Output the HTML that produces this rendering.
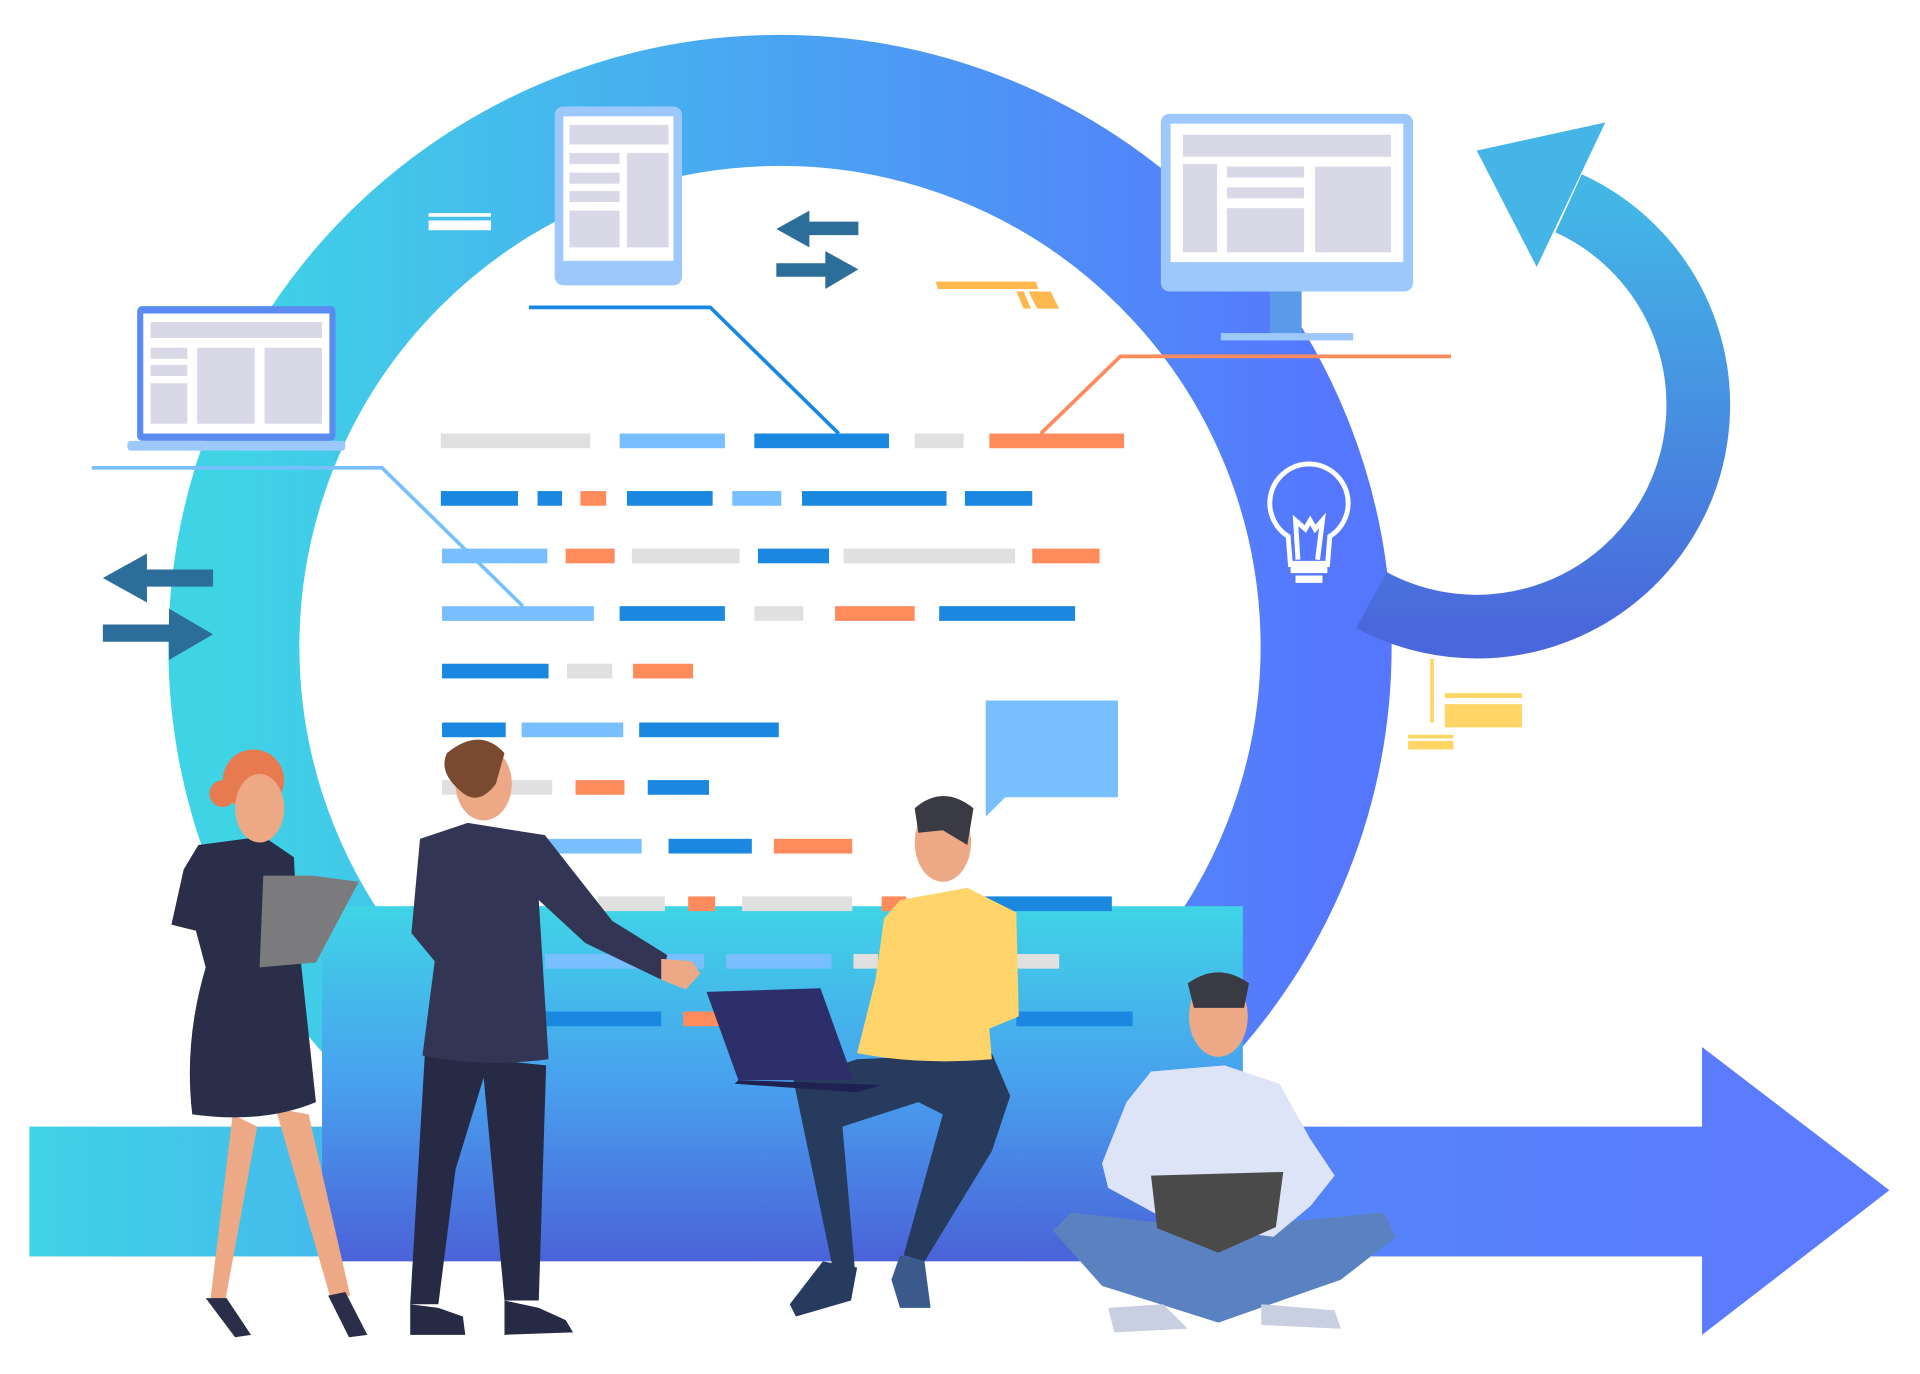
<!DOCTYPE html>
<html><head><meta charset="utf-8"><style>
html,body{margin:0;padding:0;background:#fff;width:1920px;height:1374px;overflow:hidden}
svg{display:block}
</style></head><body>
<svg width="1920" height="1374" viewBox="0 0 1568 1122" preserveAspectRatio="none" xmlns="http://www.w3.org/2000/svg">
<defs>
<linearGradient id="ring" x1="0" y1="0" x2="1" y2="0"><stop offset="0" stop-color="#3fd3e6"/><stop offset="0.5" stop-color="#4aa4f2"/><stop offset="1" stop-color="#5577fe"/></linearGradient>
<linearGradient id="arr" x1="0" y1="0" x2="1" y2="0"><stop offset="0" stop-color="#3fd3e6"/><stop offset="0.5" stop-color="#4f8ef5"/><stop offset="1" stop-color="#5a7cff"/></linearGradient>
<linearGradient id="box" x1="0" y1="0" x2="0" y2="1"><stop offset="0" stop-color="#40d4e6"/><stop offset="0.5" stop-color="#48a0ee"/><stop offset="1" stop-color="#4b62d8"/></linearGradient>
<linearGradient id="carr" x1="0" y1="0" x2="0" y2="1"><stop offset="0" stop-color="#43b6e6"/><stop offset="1" stop-color="#4a68dc"/></linearGradient>
</defs>
<circle cx="637" cy="528" r="446" fill="none" stroke="url(#ring)" stroke-width="107"/>
<path d="M1281,166 A181,181 0 1 1 1120,490" fill="none" stroke="url(#carr)" stroke-width="52"/>
<polygon points="1206,123 1311,100 1255,218" fill="#45b4e6"/>
<rect x="24" y="920" width="1367" height="106" fill="url(#arr)"/>
<polygon points="1390,855 1543,972 1390,1090" fill="#5b7cff"/>
<rect x="263" y="740" width="752" height="290" fill="url(#box)"/>
<g>
<rect x="360" y="354" width="122" height="12" fill="#e0e0e0"/><rect x="506" y="354" width="86" height="12" fill="#78c0fd"/><rect x="616" y="354" width="110" height="12" fill="#1a88e0"/><rect x="747" y="354" width="40" height="12" fill="#e0e0e0"/><rect x="808" y="354" width="110" height="12" fill="#ff8a5c"/>
<rect x="360" y="401" width="63" height="12" fill="#1a88e0"/><rect x="439" y="401" width="20" height="12" fill="#1a88e0"/><rect x="474" y="401" width="21" height="12" fill="#ff8a5c"/><rect x="512" y="401" width="70" height="12" fill="#1a88e0"/><rect x="598" y="401" width="40" height="12" fill="#78c0fd"/><rect x="655" y="401" width="118" height="12" fill="#1a88e0"/><rect x="788" y="401" width="55" height="12" fill="#1a88e0"/>
<rect x="361" y="448" width="86" height="12" fill="#78c0fd"/><rect x="462" y="448" width="40" height="12" fill="#ff8a5c"/><rect x="516" y="448" width="88" height="12" fill="#e0e0e0"/><rect x="619" y="448" width="58" height="12" fill="#1a88e0"/><rect x="689" y="448" width="140" height="12" fill="#e0e0e0"/><rect x="843" y="448" width="55" height="12" fill="#ff8a5c"/>
<rect x="361" y="495" width="124" height="12" fill="#78c0fd"/><rect x="506" y="495" width="86" height="12" fill="#1a88e0"/><rect x="616" y="495" width="40" height="12" fill="#e0e0e0"/><rect x="682" y="495" width="65" height="12" fill="#ff8a5c"/><rect x="767" y="495" width="111" height="12" fill="#1a88e0"/>
<rect x="361" y="542" width="87" height="12" fill="#1a88e0"/><rect x="463" y="542" width="37" height="12" fill="#e0e0e0"/><rect x="517" y="542" width="49" height="12" fill="#ff8a5c"/>
<rect x="361" y="590" width="52" height="12" fill="#1a88e0"/><rect x="426" y="590" width="83" height="12" fill="#78c0fd"/><rect x="522" y="590" width="114" height="12" fill="#1a88e0"/>
<rect x="361" y="637" width="90" height="12" fill="#e0e0e0"/><rect x="470" y="637" width="40" height="12" fill="#ff8a5c"/><rect x="529" y="637" width="50" height="12" fill="#1a88e0"/>
<rect x="440" y="685" width="84" height="12" fill="#78c0fd"/><rect x="546" y="685" width="68" height="12" fill="#1a88e0"/><rect x="632" y="685" width="64" height="12" fill="#ff8a5c"/>
<rect x="488" y="732" width="55" height="12" fill="#e0e0e0"/><rect x="562" y="732" width="22" height="12" fill="#ff8a5c"/><rect x="606" y="732" width="90" height="12" fill="#e0e0e0"/><rect x="720" y="732" width="20" height="12" fill="#ff8a5c"/><rect x="800" y="732" width="108" height="12" fill="#1a88e0"/>
<rect x="445" y="779" width="130" height="12" fill="#78c0fd"/><rect x="593" y="779" width="86" height="12" fill="#78c0fd"/><rect x="697" y="779" width="20" height="12" fill="#e0e0e0"/><rect x="830" y="779" width="35" height="12" fill="#e0e0e0"/>
<rect x="445" y="826" width="95" height="12" fill="#1a88e0"/><rect x="558" y="826" width="30" height="12" fill="#ff8a5c"/><rect x="830" y="826" width="95" height="12" fill="#1a88e0"/>
</g>
<polyline points="432,251 580,251 685,354" fill="none" stroke="#1a88e0" stroke-width="3"/>
<polyline points="75,382 312,382 427,495" fill="none" stroke="#78c0fd" stroke-width="3"/>
<polyline points="850,354 915,291 1185,291" fill="none" stroke="#ff8a5c" stroke-width="3"/>
<polygon points="805,572 913,572 913,651 821,651 805,667" fill="#78c0fd"/>
<rect x="453" y="87" width="104" height="146" rx="7" fill="#9cc8fb"/><rect x="460" y="95" width="90" height="118" fill="#fff"/>
<rect x="465" y="102" width="81" height="16" fill="#d9d8e6"/><rect x="465" y="125" width="41" height="9" fill="#d9d8e6"/><rect x="465" y="141" width="41" height="9" fill="#d9d8e6"/><rect x="465" y="156" width="41" height="9" fill="#d9d8e6"/><rect x="465" y="172" width="41" height="30" fill="#d9d8e6"/><rect x="512" y="125" width="34" height="77" fill="#d9d8e6"/>
<rect x="112" y="250" width="162" height="110" rx="4" fill="#5a8bf0"/><rect x="117" y="256" width="152" height="98" fill="#fff"/>
<rect x="123" y="263" width="140" height="13" fill="#d9d8e6"/><rect x="123" y="284" width="30" height="9" fill="#d9d8e6"/><rect x="123" y="298" width="30" height="9" fill="#d9d8e6"/><rect x="123" y="313" width="30" height="33" fill="#d9d8e6"/><rect x="161" y="284" width="47" height="62" fill="#d9d8e6"/><rect x="216" y="284" width="47" height="62" fill="#d9d8e6"/>
<rect x="104" y="360" width="178" height="8" rx="3" fill="#9cc8fb"/>
<rect x="1037" y="236" width="26" height="38" fill="#5a9ae8"/><rect x="997" y="272" width="108" height="6" fill="#9cc8fb"/>
<rect x="948" y="93" width="206" height="145" rx="7" fill="#9cc8fb"/><rect x="956" y="101" width="190" height="113" fill="#fff"/>
<rect x="966" y="110" width="170" height="18" fill="#d9d8e6"/><rect x="966" y="134" width="28" height="72" fill="#d9d8e6"/><rect x="1002" y="136" width="63" height="9" fill="#d9d8e6"/><rect x="1002" y="153" width="63" height="9" fill="#d9d8e6"/><rect x="1002" y="170" width="63" height="36" fill="#d9d8e6"/><rect x="1074" y="136" width="62" height="70" fill="#d9d8e6"/>
<g fill="#2d6d9a">
<polygon points="634,187 661,172 661,181 701,181 701,192 661,192 661,202"/>
<polygon points="701,220 674,205 674,215 634,215 634,226 674,226 674,236"/>
<polygon points="84,472 120,452 120,465 174,465 174,479 120,479 120,492"/>
<polygon points="174,518 138,497 138,510 84,510 84,524 138,524 138,539"/>
</g>
<rect x="350" y="174" width="51" height="3" fill="#fff"/><rect x="350" y="180" width="51" height="8" fill="#fff"/>
<polygon points="764,230 846,230 848,236 766,236" fill="#ffb84d"/><polygon points="830,238 836,238 842,252 836,252" fill="#ffb84d"/><polygon points="840,238 858,238 865,252 847,252" fill="#ffb84d"/>
<rect x="1168" y="538" width="3" height="52" fill="#ffd666"/><rect x="1180" y="566" width="63" height="4" fill="#ffd666"/><rect x="1180" y="575" width="63" height="19" fill="#ffd666"/><rect x="1150" y="600" width="37" height="3" fill="#ffd666"/><rect x="1150" y="605" width="37" height="7" fill="#ffd666"/>
<g fill="none" stroke="#fff" stroke-width="4"><path d="M1054,463 L1052,438 A32,32 0 1 1 1086,438 L1084,463"/><polyline points="1060,457 1058,425 1066,432 1070,425 1074,432 1080,425 1076,457"/></g>
<rect x="1054" y="458" width="30" height="10" fill="#fff"/><rect x="1058" y="470" width="22" height="6" fill="#fff"/>
<g>
<path d="M190,910 L172,1060 L184,1062 L210,920 Z" fill="#eda985"/><path d="M225,905 L270,1060 L286,1058 L252,910 Z" fill="#eda985"/>
<path d="M162,690 L215,683 L240,700 L243,760 L258,900 Q215,918 157,910 Q150,850 168,790 L160,760 L140,755 L150,710 Z" fill="#2a2e48"/>
<polygon points="215,715 255,715 293,720 258,786 212,790" fill="#7b7a7c"/>
<circle cx="207" cy="637" r="25" fill="#e87a50"/><ellipse cx="212" cy="660" rx="20" ry="28" fill="#eda985"/><circle cx="182" cy="648" r="11" fill="#e87a50"/>
<path d="M168,1060 L192,1092 L205,1090 L185,1060 Z" fill="#2a2e48"/><path d="M268,1058 L285,1092 L300,1090 L282,1055 Z" fill="#2a2e48"/>
</g>
<g>
<path d="M347,860 L335,1065 L358,1065 L372,955 L395,880 L412,1062 L440,1062 L446,870 Z" fill="#262a44"/>
<path d="M343,685 L382,672 L445,682 L500,752 L545,780 L540,800 L478,770 L440,735 L448,865 Q395,872 345,862 L355,785 L336,762 Z" fill="#333555"/>
<polygon points="540,783 565,785 572,795 560,808 540,800" fill="#eda985"/>
<ellipse cx="395" cy="640" rx="23" ry="30" fill="#eda985"/><path d="M365,615 Q392,593 412,615 L405,640 Q390,660 375,645 Q358,630 365,615Z" fill="#7a4a30"/>
<path d="M335,1065 L335,1090 L380,1090 L378,1075 L358,1068 Z" fill="#262a44"/><path d="M412,1062 L412,1090 L468,1088 L462,1078 L440,1068 Z" fill="#262a44"/>
</g>
<g>
<path d="M648,882 L680,1035 L698,1035 L688,920 L750,900 L770,910 L738,1025 L755,1030 L810,940 L825,895 L810,860 L700,865 Z" fill="#273b5e"/>
<path d="M735,735 L790,725 L830,745 L832,830 L808,840 L810,865 Q750,870 700,860 L715,800 L722,750 Z" fill="#ffd46b"/>
<polygon points="577,810 670,807 697,882 603,882" fill="#2d2f6b"/><polygon points="603,882 720,886 700,892 600,885" fill="#1f2150"/>
<ellipse cx="770" cy="688" rx="23" ry="32" fill="#eda985"/><path d="M747,660 Q770,640 795,660 L790,690 L770,678 L750,680 Z" fill="#3a3a44"/>
<path d="M672,1030 L700,1035 L695,1062 L650,1075 L645,1065 Z" fill="#273b5e"/><path d="M735,1025 L755,1030 L760,1068 L735,1068 L728,1045 Z" fill="#3a5a8c"/>
</g>
<g>
<path d="M860,1005 L875,990 L960,1000 L995,1015 L1030,1000 L1130,990 L1140,1010 L1095,1045 L995,1080 L900,1050 Z" fill="#5b82c0"/>
<path d="M940,875 L1000,870 L1045,885 L1070,930 L1090,960 L1070,985 L1040,1010 L960,1000 L905,970 L900,950 L920,900 Z" fill="#dde4f7"/>
<polygon points="940,960 1048,957 1042,1002 995,1023 945,1003" fill="#4a4a4a"/>
<ellipse cx="995" cy="830" rx="24" ry="33" fill="#eda985"/><path d="M970,803 Q995,785 1020,803 L1016,823 L975,823 Z" fill="#3a3a44"/>
<path d="M905,1068 L950,1065 L970,1085 L910,1088 Z" fill="#c8cfe0"/><path d="M1030,1065 L1090,1070 L1095,1085 L1030,1082 Z" fill="#c8cfe0"/>
</g>
</svg>
</body></html>
